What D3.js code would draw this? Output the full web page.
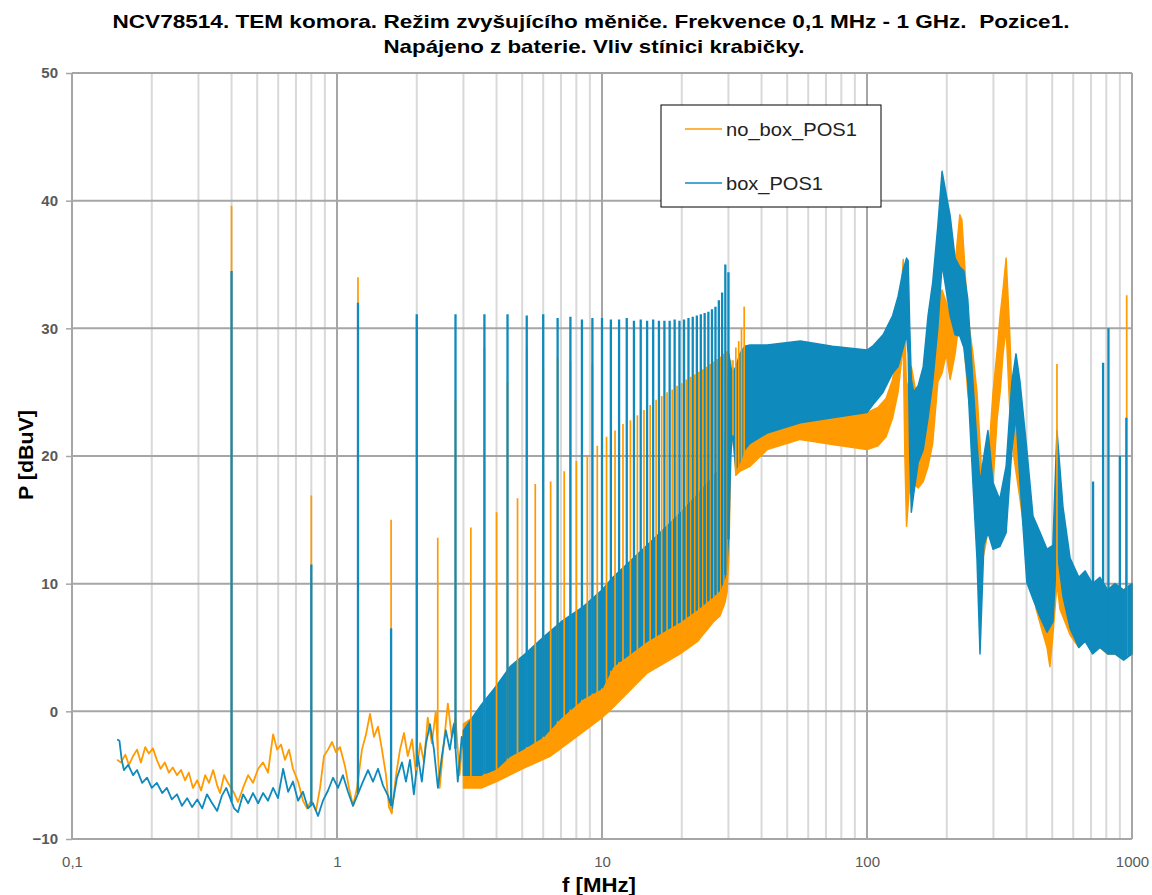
<!DOCTYPE html>
<meta charset="utf-8">
<style>
body { margin: 0; background: #fff; }
svg { font-family: "Liberation Sans", Arial, sans-serif; }
.grid-minor { stroke: #d9d9d9; stroke-width: 2; }
.grid-major { stroke: #a6a6a6; stroke-width: 2; }
.axis path { display: none; }
.axis line { stroke: #a6a6a6; stroke-width: 1.5; }
.axis text { fill: #595959; font-size: 15px; }
.axis--y text { font-weight: bold; }
</style>
<svg width="1152" height="895"></svg>
<script src="https://d3js.org/d3.v7.min.js"></script>
<script>

// ---- data ----
var title1 = "NCV78514. TEM komora. Režim zvyšujícího měniče. Frekvence 0,1 MHz - 1 GHz.  Pozice1.",
    title2 = "Napájeno z baterie. Vliv stínici krabičky.";
var xLabel = "f [MHz]", yLabel = "P [dBuV]";
var seriesNames = ["no_box_POS1", "box_POS1"];
var xTickValues = [0.1, 1, 10, 100, 1000],
    xTickLabels = ["0,1", "1", "10", "100", "1000"];
var yTickValues = [-10, 0, 10, 20, 30, 40, 50];

// low frequency part, drawn as a trace (MHz, dBuV)
var noBoxLowF = [0.148,0.153,0.159,0.164,0.170,0.176,0.182,0.189,0.195,0.202,0.209,0.216,0.224,0.232,0.240,0.249,0.258,0.267,0.276,0.286,0.297,0.307,0.318,0.329,0.341,0.353,0.362,0.375,0.385,0.409,0.423,0.442,0.462,0.482,0.504,0.526,0.549,0.574,0.594,0.615,0.636,0.659,0.682,0.713,0.744,0.771,0.798,0.833,0.863,0.893,0.925,0.958,0.991,1.026,1.072,1.110,1.149,1.190,1.242,1.287,1.332,1.379,1.428,1.478,1.531,1.571,1.610,1.670,1.729,1.790,1.85,1.92,1.99,2.06,2.13,2.20,2.28,2.36,2.44,2.53,2.62,2.71,2.80,2.90,3.00];
var noBoxLowP = [-3.8,-4.0,-3.4,-4.2,-3.5,-3.0,-4.0,-2.8,-3.3,-2.9,-3.8,-4.5,-4.0,-4.8,-4.4,-5.0,-4.6,-5.4,-4.8,-6.0,-5.4,-6.2,-5.0,-5.6,-4.6,-5.8,-6.4,-5.0,-5.5,-6.4,-7.1,-6.0,-5.0,-5.6,-4.5,-4.0,-4.8,-1.8,-3.0,-2.6,-3.8,-3.0,-4.5,-5.5,-7.0,-7.6,-7.0,-7.8,-6.0,-3.5,-3.0,-2.4,-3.2,-2.8,-4.3,-6.0,-7.4,-6.0,-3.0,-1.8,-0.2,-2.0,-1.2,-3.0,-5.0,-7.5,-8.0,-5.0,-3.0,-1.7,-3.5,-2.2,-5.0,-2.5,-4.0,-0.5,-2.5,0.0,-6.0,-2.5,0.6,-2.0,-0.5,-5.0,-1.5];
var boxLowF = [0.148,0.151,0.154,0.157,0.163,0.170,0.176,0.184,0.192,0.200,0.209,0.219,0.228,0.238,0.249,0.260,0.272,0.284,0.297,0.310,0.323,0.338,0.353,0.368,0.382,0.409,0.423,0.442,0.462,0.482,0.504,0.526,0.549,0.574,0.599,0.626,0.654,0.682,0.713,0.744,0.777,0.812,0.848,0.885,0.925,0.966,1.009,1.053,1.100,1.149,1.253,1.309,1.367,1.428,1.491,1.557,1.610,1.684,1.759,1.82,1.886,1.95,2.02,2.09,2.167,2.243,2.322,2.403,2.488,2.575,2.665,2.759,2.856,2.956,3.06];
var boxLowP = [-2.2,-2.3,-3.8,-4.6,-4.2,-5.0,-4.6,-5.6,-5.2,-6.0,-5.6,-6.4,-6.0,-6.9,-6.5,-7.4,-6.8,-7.5,-6.9,-7.6,-6.5,-7.2,-7.8,-6.6,-6.0,-7.6,-7.9,-6.5,-7.2,-6.4,-7.2,-6.4,-7.0,-6.0,-6.8,-4.5,-6.3,-5.5,-7.0,-6.3,-7.6,-7.2,-8.2,-7.0,-6.2,-5.2,-6.0,-5.0,-6.3,-7.4,-5.5,-4.6,-5.5,-4.5,-5.8,-6.6,-7.6,-5.2,-4.0,-5.5,-3.8,-6.5,-3.5,-5.5,-2.5,-1.0,-3.0,-6.0,-3.5,-1.5,-3.0,-1.0,-5.5,-2.0,-4.0];

// dense part, drawn as a min/max envelope (MHz, dBuV)
var noBoxBandF  = [3.0,3.5,4.0,5.0,6.4,8.0,10,11,14.8,19.7,23,26.3,27.9,29.1,29.6,30.1,30.6,31.1,32.0,33.1,34.6,36.2,42,56,74,100,110,118,125,131,135,137,139,141,144,147,156,163,170,177,185,192,199,206,215,224,228,232,240,251,260,267,272,280,290,299,310,318,326,335,345,355,378,401,435,460,478,490,503,521,535,584,630,665,710,757,810,862,930,1000];
var noBoxBandLo = [-6.0,-6.0,-5.5,-4.5,-3.5,-2.0,-0.5,0.3,3.0,4.5,5.5,7.0,7.5,8.5,9.3,12,20,22,18.5,18.8,19,19.2,20.5,21.3,20.9,20.5,20.8,21.5,23,25,27.5,29,20,14.5,17,18,17.5,18,19.2,21,25.8,26.5,28,26,28,31,32,29,25,22,19,15,11.7,13,15,18,23,25,28,30,24,20.5,16.6,12.7,8,6.2,5,3.5,6,10,8,6,5,5.5,4.8,5,4.5,4.5,4.2,4.5];
var noBoxBandHi = [-1.0,0,1,2.5,4,5.5,7,7.5,8,9.5,11,12,13,14.5,16.3,25,27.5,24.4,22.5,22,21.5,21.5,22,22.6,23,23.4,23.8,24.5,26,29,33,35.4,30,25,26,27,24,23,24.4,27,32,33,32,31,35,38.9,38.5,36,31,28,25,21,17.9,19,21,25,28.3,31,33,35.5,30,23.1,21.9,16.6,13,11.4,10,9,12,16,14,11,10,10.5,9.5,10,9.5,10,9.5,10];
var boxBandF  = [3.0,3.5,4.0,4.5,5.0,6.0,7.0,8.5,10,11,14.8,19.7,23,26.3,27.9,29.1,29.6,30.1,30.6,31.1,32.0,33.1,34.6,36.2,42,56,74,100,105,115,125,131,137,141,143,145,147,150,156,163,170,177,185,192,199,206,215,224,232,240,251,260,267,276,286,299,317,335,352,365,378,401,423,450,478,503,521,549,584,630,665,710,757,810,862,930,1000];
var boxBandLo = [-5.0,-5,-4.5,-3.5,-3,-2,-0.5,1,1.8,3.5,5.5,7,8,9,9.5,10.5,11.4,14,20,22,19,19.5,20.5,21,21.8,22.6,23,23.4,24,25,26.5,27,28.5,29.5,28,20,15.6,17,19.5,20.5,23,25.8,30,35,33,31,29.5,29.4,28.5,25.8,17.9,12,4.5,13,14,12.7,12.9,14,20.5,23.1,17.9,10.1,8.8,7.4,6.2,7,12.7,9,6.5,5,5.5,4.5,5,4.5,4.5,4,4.5];
var boxBandHi = [-1.5,0.5,2,3.5,4.3,5.8,7,8.2,9.5,10.5,13,15.5,17,18.4,19,21,24,28,27,26.5,27,28,28.6,28.7,28.7,29,28.6,28.3,28.6,29.5,31,32.5,34.6,35.5,35.3,30,26,25,25.5,27,31,33.6,38,42.3,40.5,38.8,35.5,34.8,34.5,32.3,25.8,21,17.9,20,22,17.9,16.6,19.2,25.8,28,25.8,20.5,15.3,14,12.7,13,22,16,12,10.5,11,10,10.5,9.5,10,9.5,10];

// narrow spikes (MHz, peak dBuV)
var noBoxSpikeF = [0.4,0.8,1.2,1.6,2.0,2.4,2.8,3.2,3.6,4.0,4.4,4.8,5.2,5.6,6.0,6.4,6.8,7.2,7.6,8.0,8.4,8.8,9.2,9.6,10.0,10.4,10.8,11.2,11.6,12.0,12.8,13.6,14.4,15.2,16.0,16.8,17.6,18.4,19.2,20.0,20.8,21.6,22.4,23.2,24.0,24.8,25.6,26.4,27.2,28.0,28.8,29.6,31.2,32.0,32.8,33.6,34.4,521,955];
var noBoxSpikeP = [39.6,16.9,34.0,15.0,30.7,13.6,24.4,14.4,28.5,15.6,25.8,16.7,28.5,17.8,27.0,18.0,27.7,18.8,27.4,19.6,27.3,20.0,27.2,20.8,27.5,21.5,27.0,22.0,27.5,22.5,22.8,23.2,23.6,24.0,24.4,24.7,25.0,25.2,25.5,25.7,26.0,26.2,26.4,26.6,26.8,27.0,27.2,27.4,27.6,27.8,28.0,28.2,27.5,28.5,29.0,30.0,31.7,27.2,32.6];
var boxSpikeF = [0.4,0.8,1.2,1.6,2.0,2.8,3.6,4.4,5.2,6.0,6.8,7.6,8.4,9.2,10.0,10.8,11.6,12.4,13.2,14.0,14.8,15.6,16.4,17.2,18.0,18.8,19.6,20.4,21.2,22.0,22.8,23.6,24.4,25.2,26.0,26.8,27.6,28.4,29.2,30.0,713,778,815,900,952];
var boxSpikeP = [34.5,11.5,32.0,6.5,31.1,31.1,31.1,31.1,31.0,31.1,30.8,30.9,30.7,30.8,30.8,30.7,30.7,30.8,30.6,30.7,30.6,30.7,30.6,30.6,30.6,30.7,30.6,30.7,30.8,30.9,31.0,31.1,31.2,31.3,31.5,31.7,32.2,32.8,35.0,34.4,18,27.3,30,20,23];

var colors = ["#ff9a00", "#0f8abd"];

// ---- chart ----
var svg = d3.select("svg"),
    margin = {top: 73, right: 20, bottom: 56, left: 72},
    width = 1152 - margin.left - margin.right,
    height = 895 - margin.top - margin.bottom;

var x = d3.scaleLog().domain([0.1, 1000]).range([margin.left, margin.left + width]),
    y = d3.scaleLinear().domain([-10, 50]).range([margin.top + height, margin.top]);

// grid
var minor = x.ticks().filter(function(d) { return xTickValues.indexOf(d) < 0; });
svg.append("g").selectAll("line").data(minor).enter().append("line")
    .attr("class", "grid-minor")
    .attr("x1", x).attr("x2", x)
    .attr("y1", y(-10)).attr("y2", y(50));
svg.append("g").selectAll("line").data(xTickValues).enter().append("line")
    .attr("class", "grid-major")
    .attr("x1", x).attr("x2", x)
    .attr("y1", y(-10)).attr("y2", y(50));
svg.append("g").selectAll("line").data(yTickValues).enter().append("line")
    .attr("class", "grid-major")
    .attr("x1", x(0.1)).attr("x2", x(1000))
    .attr("y1", y).attr("y2", y);

// axes
svg.append("g")
    .attr("class", "axis axis--y")
    .attr("transform", "translate(" + x(0.1) + ",0)")
    .call(d3.axisLeft(y).tickValues(yTickValues).tickSize(6).tickPadding(8));
svg.append("g")
    .attr("class", "axis axis--x")
    .attr("transform", "translate(0," + y(-10) + ")")
    .call(d3.axisBottom(x).tickValues(xTickValues).tickSize(0).tickPadding(17)
      .tickFormat(function(d, i) { return xTickLabels[i]; }));

// series
function zip(f, p) { return f.map(function(d, i) { return [d, p[i]]; }); }
function band(f, lo, hi) { return f.map(function(d, i) { return [d, lo[i], hi[i]]; }); }

var line = d3.line().x(function(d) { return x(d[0]); }).y(function(d) { return y(d[1]); });
var area = d3.area().x(function(d) { return x(d[0]); })
    .y0(function(d) { return y(d[1]); }).y1(function(d) { return y(d[2]); });

var series = [
  {low: zip(noBoxLowF, noBoxLowP), band: band(noBoxBandF, noBoxBandLo, noBoxBandHi),
   spikes: zip(noBoxSpikeF, noBoxSpikeP), lowF: noBoxLowF, lowP: noBoxLowP, bandF: noBoxBandF, bandLo: noBoxBandLo, w: 1.7},
  {low: zip(boxLowF, boxLowP), band: band(boxBandF, boxBandLo, boxBandHi),
   spikes: zip(boxSpikeF, boxSpikeP), lowF: boxLowF, lowP: boxLowP, bandF: boxBandF, bandLo: boxBandLo, w: 2.3}
];

var plot = svg.append("g");

series.forEach(function(s, i) {
  plot.append("path")
      .datum(s.low)
      .attr("fill", "none")
      .attr("stroke", colors[i])
      .attr("stroke-width", 1.8)
      .attr("stroke-linejoin", "round")
      .attr("d", line);
  plot.append("path")
      .datum(s.band)
      .attr("fill", colors[i])
      .attr("stroke", colors[i])
      .attr("stroke-width", 1.5)
      .attr("stroke-linejoin", "round")
      .attr("d", area);
});

series.forEach(function(s, i) {
  // foot of each spike sits on the trace / lower envelope
  var lowBase = d3.scaleLog().domain(s.lowF).range(s.lowP).clamp(true),
      bandBase = d3.scaleLog().domain(s.bandF).range(s.bandLo).clamp(true);
  plot.append("g").selectAll("line")
    .data(s.spikes)
    .enter().append("line")
      .attr("stroke", colors[i])
      .attr("stroke-width", s.w)
      .attr("x1", function(d) { return x(d[0]); })
      .attr("x2", function(d) { return x(d[0]); })
      .attr("y1", function(d) { return y(d[0] < 3 ? lowBase(d[0]) : bandBase(d[0])); })
      .attr("y2", function(d) { return y(d[1]); });
});

// titles
svg.append("text")
    .attr("x", 591).attr("y", 28)
    .attr("text-anchor", "middle")
    .style("white-space", "pre")
    .attr("font-weight", "bold").attr("font-size", 19)
    .attr("textLength", 957).attr("lengthAdjust", "spacingAndGlyphs")
    .text(title1);
svg.append("text")
    .attr("x", 594).attr("y", 53)
    .attr("text-anchor", "middle")
    .attr("font-weight", "bold").attr("font-size", 19)
    .attr("textLength", 421).attr("lengthAdjust", "spacingAndGlyphs")
    .text(title2);

svg.append("text")
    .attr("transform", "translate(33,455) rotate(-90)")
    .attr("text-anchor", "middle")
    .attr("font-weight", "bold").attr("font-size", 21)
    .attr("textLength", 90).attr("lengthAdjust", "spacingAndGlyphs")
    .text(yLabel);
svg.append("text")
    .attr("x", 599).attr("y", 892)
    .attr("text-anchor", "middle")
    .attr("font-weight", "bold").attr("font-size", 21)
    .attr("textLength", 74).attr("lengthAdjust", "spacingAndGlyphs")
    .text(xLabel);

// legend
var legend = svg.append("g").attr("transform", "translate(661,105)");
legend.append("rect")
    .attr("width", 220).attr("height", 102)
    .attr("fill", "#fff").attr("stroke", "#000").attr("stroke-width", 1);
var legendWidths = [131, 97];
seriesNames.forEach(function(name, i) {
  var ly = 24 + i * 54;
  legend.append("line")
      .attr("x1", 24).attr("x2", 61)
      .attr("y1", ly).attr("y2", ly)
      .attr("stroke", colors[i]).attr("stroke-width", 1.5);
  legend.append("text")
      .attr("x", 65).attr("y", ly + 7)
      .attr("font-size", 19)
      .attr("fill", "#222")
      .attr("textLength", legendWidths[i]).attr("lengthAdjust", "spacingAndGlyphs")
      .text(name);
});

</script>
